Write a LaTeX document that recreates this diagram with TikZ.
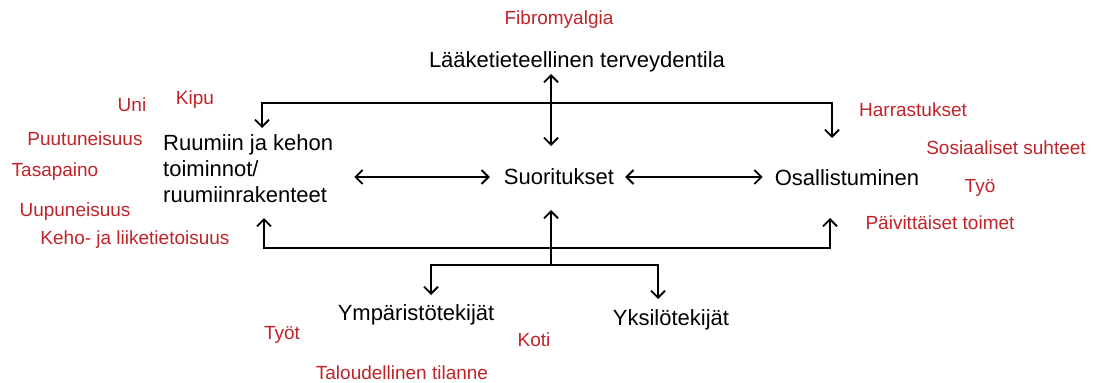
\documentclass[tikz,border=0pt]{standalone}
\usepackage{fontspec}
\setmainfont{Liberation Sans}
\usetikzlibrary{arrows.meta}
\definecolor{lbl}{RGB}{192,35,40}
\tikzset{
  main/.style={font=\fontsize{22}{26}\selectfont, inner sep=0pt},
  tag/.style={font=\fontsize{19}{23}\selectfont, text=lbl, inner sep=0pt},
  barb/.tip={Straight Barb[length=7pt,width=14pt,line width=1.8pt]},
  link/.style={line width=2pt, -barb},
  link2/.style={line width=2pt, barb-barb},
}
\begin{document}
\begin{tikzpicture}[x=1pt,y=-1pt]
\useasboundingbox (0,0) rectangle (1093,383);
% main nodes
\node[main] (ltt) at (577,62) {Lääketieteellinen terveydentila};
\node[main, anchor=west, align=left] (rk) at (163,169) {Ruumiin ja kehon\\toiminnot/\\ruumiinrakenteet};
\node[main] (suo) at (559,177) {Suoritukset};
\node[main] (osa) at (847,178) {Osallistuminen};
\node[main] (ymp) at (416,315) {Ympäristötekijät};
\node[main] (yks) at (671,320) {Yksilötekijät};
% red labels
\node[tag] (fib) at (559,20) {Fibromyalgia};
\node[tag] (uni) at (132,105) {Uni};
\node[tag] (kipu) at (195,100) {Kipu};
\node[tag] (puu) at (85,139) {Puutuneisuus};
\node[tag] (tas) at (55,172) {Tasapaino};
\node[tag] (uup) at (75,212) {Uupuneisuus};
\node[tag] (keho) at (135,240) {Keho- ja liiketietoisuus};
\node[tag] (har) at (913,110) {Harrastukset};
\node[tag] (sos) at (1006,148) {Sosiaaliset suhteet};
\node[tag] (tyo) at (980,188) {Työ};
\node[tag] (pai) at (940,223) {Päivittäiset toimet};
\node[tag] (tyot) at (282,335) {Työt};
\node[tag] (koti) at (534,340) {Koti};
\node[tag] (tal) at (402,373) {Taloudellinen tilanne};
% junction coordinates
\coordinate (vtop) at (551,74);
\coordinate (vbot) at (551,146);
\coordinate (topmid) at (551,103);
\coordinate (rktop) at (262,128);
\coordinate (osatop) at (832,138);
\coordinate (botmid) at (551,248);
\coordinate (rkbot) at (264,218);
\coordinate (osabot) at (830,218);
\coordinate (suobot) at (551,210);
\coordinate (branch) at (551,265);
\coordinate (ympt) at (431,295);
\coordinate (ykst) at (658,299);
% connectors
\draw[link2] (vtop) -- (vbot);
\draw[link] (topmid) -| (rktop);
\draw[link] (topmid) -| (osatop);
\draw[link2] ([xshift=21pt]rk.east |- suo.west) -- ([xshift=-14pt]suo.west);
\draw[link2] ([xshift=11pt]suo.east) -- ([xshift=-12pt]osa.west |- suo.east);
\draw[link] (botmid) -| (rkbot);
\draw[link] (botmid) -| (osabot);
\draw[link] (branch) -- (suobot);
\draw[link] (branch) -| (ympt);
\draw[link] (branch) -| (ykst);
\end{tikzpicture}
\end{document}
